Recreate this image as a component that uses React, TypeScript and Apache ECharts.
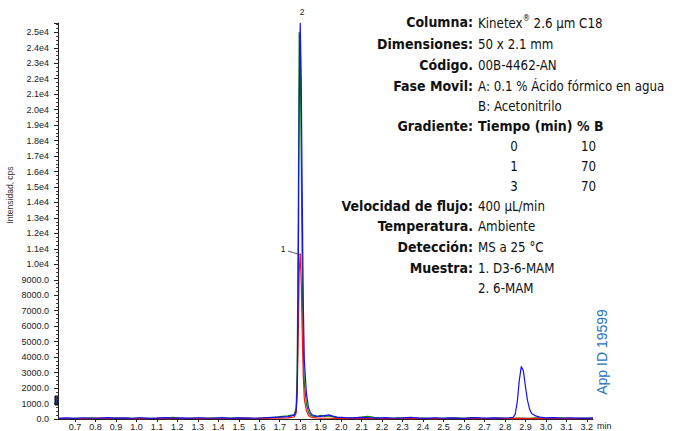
import React, { useEffect, useRef } from "react";
import * as echarts from "echarts";

// Chromatogram traces: [time (min), intensity (cps)]
const greenTrace: [number, number][] = [
  [0.62, 50], [0.66, 30], [0.70, 60], [0.74, 40], [0.78, 70], [0.82, 50], [0.86, 40], [0.90, 80],
  [0.94, 50], [0.98, 40], [1.02, 60], [1.06, 50], [1.10, 40], [1.14, 70], [1.18, 100], [1.22, 50],
  [1.26, 40], [1.30, 60], [1.34, 50], [1.38, 70], [1.42, 40], [1.46, 60], [1.50, 80], [1.54, 50],
  [1.58, 40], [1.62, 60], [1.66, 90], [1.70, 150], [1.74, 200], [1.77, 280], [1.78, 700], [1.785, 3000],
  [1.79, 12000], [1.795, 25000], [1.80, 23500], [1.805, 17000], [1.81, 9500], [1.815, 4500], [1.82, 2300],
  [1.83, 1000], [1.84, 450], [1.85, 250], [1.86, 180], [1.88, 150], [1.90, 230], [1.92, 170], [1.94, 200],
  [1.96, 140], [1.98, 90], [2.02, 60], [2.06, 80], [2.10, 130], [2.13, 170], [2.16, 110], [2.20, 60],
  [2.24, 50], [2.28, 70], [2.32, 50], [2.36, 40], [2.40, 60], [2.44, 50], [2.48, 40], [2.52, 60],
  [2.56, 80], [2.60, 50], [2.64, 90], [2.68, 50], [2.72, 40], [2.76, 60], [2.80, 50], [2.84, 40],
  [2.88, 60], [2.92, 50], [2.96, 70], [3.00, 40], [3.04, 60], [3.08, 80], [3.12, 50], [3.16, 40],
  [3.20, 60], [3.23, 50],
];

const redTrace: [number, number][] = [
  [0.62, 30], [0.66, 50], [0.70, 20], [0.74, 40], [0.78, 30], [0.82, 60], [0.86, 20], [0.90, 40],
  [0.94, 50], [0.98, 30], [1.02, 40], [1.06, 20], [1.10, 50], [1.14, 30], [1.18, 40], [1.22, 20],
  [1.26, 50], [1.30, 30], [1.34, 40], [1.38, 20], [1.42, 50], [1.46, 30], [1.50, 40], [1.54, 60],
  [1.58, 30], [1.62, 40], [1.66, 50], [1.70, 60], [1.74, 70], [1.77, 130], [1.78, 350], [1.785, 1500],
  [1.79, 5000], [1.795, 9500], [1.80, 10700], [1.805, 8800], [1.81, 5500], [1.815, 2800], [1.82, 1300],
  [1.83, 550], [1.84, 240], [1.85, 130], [1.86, 90], [1.88, 70], [1.90, 60], [1.94, 50], [1.98, 40],
  [2.02, 30], [2.06, 50], [2.10, 30], [2.14, 40], [2.18, 20], [2.22, 40], [2.26, 30], [2.30, 50],
  [2.34, 30], [2.38, 40], [2.42, 20], [2.46, 40], [2.50, 30], [2.54, 50], [2.58, 30], [2.62, 40],
  [2.66, 20], [2.70, 40], [2.74, 30], [2.78, 50], [2.82, 30], [2.86, 40], [2.90, 20], [2.94, 40],
  [2.98, 30], [3.02, 50], [3.06, 30], [3.10, 40], [3.14, 20], [3.18, 40], [3.23, 30],
];

const blueTrace: [number, number][] = [
  [0.62, 40], [0.66, 70], [0.70, 30], [0.74, 80], [0.78, 50], [0.82, 60], [0.86, 90], [0.90, 40],
  [0.94, 70], [0.98, 50], [1.02, 80], [1.06, 40], [1.10, 60], [1.14, 90], [1.18, 50], [1.22, 70],
  [1.26, 40], [1.30, 80], [1.34, 60], [1.38, 50], [1.42, 90], [1.46, 40], [1.50, 70], [1.54, 60],
  [1.58, 50], [1.62, 80], [1.66, 100], [1.70, 120], [1.74, 150], [1.77, 230], [1.78, 500], [1.785, 1800],
  [1.79, 8000], [1.795, 20000], [1.80, 25600], [1.805, 22000], [1.81, 14000], [1.815, 7500], [1.82, 3800],
  [1.83, 1700], [1.84, 750], [1.85, 400], [1.86, 260], [1.88, 190], [1.90, 170], [1.92, 220], [1.94, 270],
  [1.96, 190], [1.98, 120], [2.02, 90], [2.06, 70], [2.10, 100], [2.14, 80], [2.18, 60], [2.22, 90],
  [2.26, 50], [2.30, 70], [2.34, 100], [2.38, 60], [2.42, 40], [2.46, 80], [2.50, 50], [2.54, 70],
  [2.58, 40], [2.62, 60], [2.66, 90], [2.70, 50], [2.74, 70], [2.78, 60], [2.82, 80], [2.84, 110],
  [2.85, 300], [2.86, 1100], [2.87, 2500], [2.88, 3400], [2.89, 3100], [2.90, 2100], [2.91, 1200],
  [2.92, 650], [2.93, 360], [2.95, 200], [2.97, 120], [3.00, 70], [3.04, 90], [3.08, 50], [3.12, 80],
  [3.16, 60], [3.20, 40], [3.23, 70],
];

const xTickLabels = [0.7, 0.8, 0.9, 1.0, 1.1, 1.2, 1.3, 1.4, 1.5, 1.6, 1.7, 1.8, 1.9, 2.0, 2.1, 2.2, 2.3, 2.4, 2.5, 2.6, 2.7, 2.8, 2.9, 3.0, 3.1, 3.2];

const infoLabels = [
  "Columna:", "Dimensiones:", "Código.", "Fase Movil:", "", "Gradiente:", "", "", "",
  "Velocidad de flujo:", "Temperatura.", "Detección:", "Muestra:", "",
];
const infoValues = [
  "Kinetex® 2.6 µm C18", "50 x 2.1 mm", "00B-4462-AN", "A: 0.1 % Ácido fórmico en agua", "B: Acetonitrilo",
  "", "", "", "", "400 µL/min", "Ambiente", "MS a 25 °C", "1. D3-6-MAM", "2. 6-MAM",
];
const infoRowY = [22, 44, 65, 86, 106, 126, 146, 166, 186, 206, 226, 247, 268, 288];
const gradTime = ["0", "1", "3"];
const gradB = ["10", "70", "70"];

const FONT = "'Liberation Sans Narrow', 'DejaVu Sans Condensed', 'Roboto', sans-serif";
const SMALL = "'Liberation Sans', Arial, sans-serif";
const VSIZE = 13.2;

export default function App() {
  const ref = useRef<HTMLDivElement>(null);
  useEffect(() => {
    if (!ref.current) return;
    const chart = echarts.init(ref.current, null, { renderer: "svg" });
    const graphics: any[] = [];
    infoLabels.forEach((l, i) => {
      if (!l) return;
      graphics.push({
        type: "text", x: 473, y: infoRowY[i],
        style: { text: l, fontFamily: FONT, fontSize: 14, fontWeight: "bold", fill: "#111", align: "right", verticalAlign: "middle" },
      });
    });
    infoValues.forEach((v, i) => {
      if (!v) return;
      if (v.indexOf("®") >= 0) {
        const [a, b] = v.split("®");
        graphics.push({
          type: "text", x: 478, y: infoRowY[i],
          style: {
            text: `{n|${a}}{s|®}{n|${b}}`, fontFamily: FONT, verticalAlign: "middle", align: "left",
            rich: {
              n: { fontFamily: FONT, fontSize: VSIZE, fill: "#111", color: "#111", verticalAlign: "bottom", lineHeight: 16 },
              s: { fontFamily: FONT, fontSize: 8, fill: "#111", color: "#111", verticalAlign: "top", lineHeight: 16 },
            },
          },
        });
        return;
      }
      graphics.push({
        type: "text", x: 478, y: infoRowY[i],
        style: { text: v, fontFamily: FONT, fontSize: VSIZE, fill: "#111", align: "left", verticalAlign: "middle" },
      });
    });
    graphics.push({
      type: "text", x: 478, y: infoRowY[5],
      style: { text: "Tiempo (min)", fontFamily: FONT, fontSize: 14, fontWeight: "bold", fill: "#111", align: "left", verticalAlign: "middle" },
    });
    graphics.push({
      type: "text", x: 577, y: infoRowY[5],
      style: { text: "% B", fontFamily: FONT, fontSize: 14, fontWeight: "bold", fill: "#111", align: "left", verticalAlign: "middle" },
    });
    gradTime.forEach((t, i) => {
      graphics.push({
        type: "text", x: 514, y: infoRowY[6 + i],
        style: { text: t, fontFamily: FONT, fontSize: VSIZE, fill: "#111", align: "center", verticalAlign: "middle" },
      });
      graphics.push({
        type: "text", x: 581, y: infoRowY[6 + i],
        style: { text: gradB[i], fontFamily: FONT, fontSize: VSIZE, fill: "#111", align: "left", verticalAlign: "middle" },
      });
    });
    // App ID
    graphics.push({
      type: "text", x: 602, y: 352, rotation: Math.PI / 2,
      style: { text: "App ID 19599", fontFamily: SMALL, fontSize: 14, fill: "#2a72c0", align: "center", verticalAlign: "middle" },
    });
    // y axis name
    graphics.push({
      type: "text", x: 10, y: 195, rotation: Math.PI / 2,
      style: { text: "Intensidad, cps", fontFamily: SMALL, fontSize: 8.5, fill: "#333", align: "center", verticalAlign: "middle" },
    });
    // peak labels
    graphics.push({
      type: "text", x: 302, y: 12,
      style: { text: "2", fontFamily: SMALL, fontSize: 8.5, fill: "#222", align: "center", verticalAlign: "middle" },
    });
    graphics.push({
      type: "text", x: 283, y: 249,
      style: { text: "1", fontFamily: SMALL, fontSize: 8.5, fill: "#222", align: "center", verticalAlign: "middle" },
    });
    graphics.push({
      type: "line", shape: { x1: 288, y1: 251, x2: 301, y2: 255 },
      style: { stroke: "#333", lineWidth: 0.8 },
    });
    // x axis unit
    graphics.push({
      type: "text", x: 597, y: 425.5,
      style: { text: "min", fontFamily: SMALL, fontSize: 9, fill: "#222", align: "left", verticalAlign: "middle" },
    });
    // small marker on y axis
    graphics.push({
      type: "rect", shape: { x: 55, y: 396, width: 3, height: 9 },
      style: { fill: "#2233aa", stroke: "#000", lineWidth: 1 },
    });

    chart.setOption({
      animation: false,
      backgroundColor: "#fff",
      grid: { left: 58, right: 88, top: 23, bottom: 10, containLabel: false },
      xAxis: {
        type: "value", min: 0.617, max: 3.23,
        axisLine: { show: true, lineStyle: { color: "#222", width: 1 } },
        axisTick: { show: true, length: 3, lineStyle: { color: "#222" }, customValues: xTickLabels },
        axisLabel: {
          customValues: xTickLabels, fontSize: 9, color: "#222", margin: 3,
          fontFamily: SMALL,
          formatter: (v: number) => v.toFixed(1),
        },
        splitLine: { show: false },
      },
      yAxis: {
        type: "value", min: 0, max: 25600, interval: 1000,
        axisLine: { show: true, lineStyle: { color: "#222", width: 1 } },
        axisTick: { show: true, length: 4, lineStyle: { color: "#222" } },
        minorTick: { show: true, splitNumber: 4, length: 2, lineStyle: { color: "#444" } },
        axisLabel: {
          fontSize: 9, color: "#222", margin: 9, showMaxLabel: false,
          fontFamily: SMALL,
          formatter: (v: number) => (v >= 10000 ? (v / 10000).toFixed(1) + "e4" : v.toFixed(1)),
        },
        splitLine: { show: false },
      },
      series: [
        { type: "line", data: greenTrace, showSymbol: false, lineStyle: { color: "#0a7a0a", width: 1.2 }, itemStyle: { color: "#0a7a0a" } },
        { type: "line", data: redTrace, showSymbol: false, lineStyle: { color: "#ff1010", width: 1.2 }, itemStyle: { color: "#ff1010" } },
        { type: "line", data: blueTrace, showSymbol: false, lineStyle: { color: "#1010ff", width: 1.2 }, itemStyle: { color: "#1010ff" } },
      ],
      graphic: graphics,
    });
    return () => chart.dispose();
  }, []);
  return <div ref={ref} style={{ width: 681, height: 431, position: "absolute", left: 0, top: 0 }} />;
}
